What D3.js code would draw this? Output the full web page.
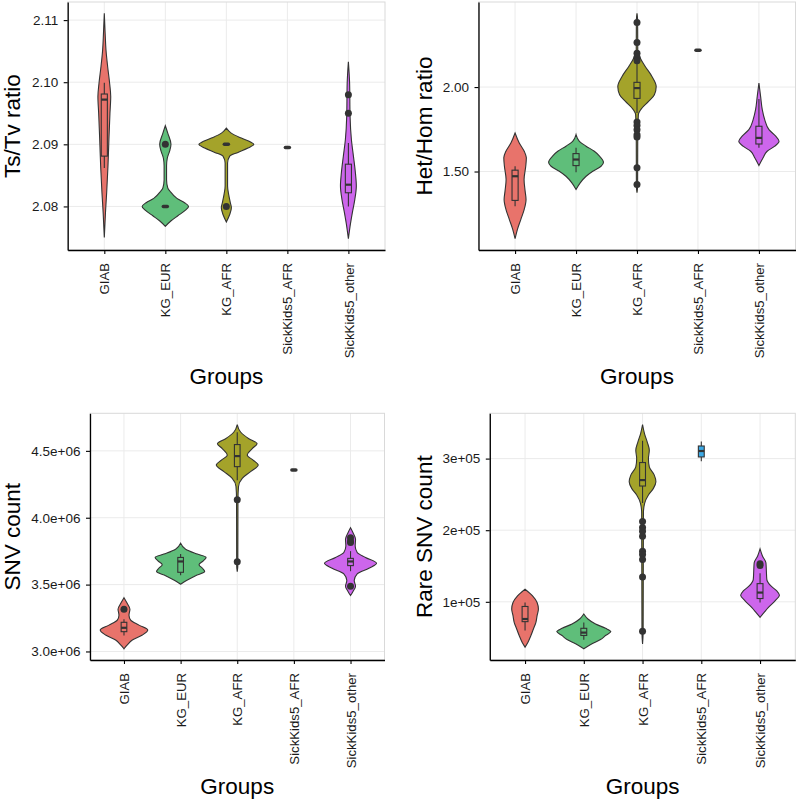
<!DOCTYPE html>
<html>
<head>
<meta charset="utf-8">
<script src="https://cdn.jsdelivr.net/npm/d3@7"></script>
<style>
  body { margin: 0; background: #fff; }
  svg text { font-family: "Liberation Sans", Arial, Helvetica, sans-serif; }
</style>
</head>
<body>
<div id="content"></div>
<script>
// groups in plotting order, with the ggplot hue assigned to each
var groups = ["GIAB", "KG_EUR", "KG_AFR", "SickKids5_AFR", "SickKids5_other"];
var groupColors = ["#E8736B", "#5FBE7A", "#A4A32A", "#3DAAE6", "#CD66EC"];

// violin profiles: [value, width as share of one group step], top to bottom
var tstvProfiles = [
	[[2.1111, 0], [2.1079, 0.027], [2.1052, 0.055], [2.1025, 0.11], [2.0998, 0.175], [2.0977, 0.21],
	 [2.0950, 0.185], [2.0907, 0.15], [2.0865, 0.12], [2.0822, 0.077], [2.0790, 0.038], [2.0750, 0]],
	[[2.0930, 0], [2.0918, 0.08], [2.0900, 0.185], [2.0889, 0.14], [2.0878, 0.065], [2.0865, 0.04],
	 [2.0843, 0.04], [2.0830, 0.08], [2.0824, 0.16], [2.0813, 0.38], [2.0806, 0.63], [2.0800, 0.76],
	 [2.0794, 0.66], [2.0785, 0.41], [2.0777, 0.19], [2.0768, 0]],
	[[2.0926, 0], [2.0918, 0.16], [2.0910, 0.49], [2.0903, 0.82], [2.0900, 0.9], [2.0894, 0.71],
	 [2.0887, 0.38], [2.0881, 0.11], [2.0870, 0.04], [2.0833, 0.04], [2.0819, 0.077], [2.0806, 0.13],
	 [2.0798, 0.165], [2.0787, 0.11], [2.0775, 0]],
	[],
	[[2.1033, 0], [2.0998, 0.04], [2.0945, 0.055], [2.0907, 0.1], [2.0881, 0.165], [2.0854, 0.23],
	 [2.0833, 0.26], [2.0811, 0.21], [2.0790, 0.13], [2.0768, 0.055], [2.0748, 0]]
];
// box stats: [lower whisker, q1, median, q3, upper whisker]
var tstvBoxes = [
	[2.0862, 2.0881, 2.0972, 2.0981, 2.0999],
	[2.0800, 2.0800, 2.0800, 2.0800, 2.0800],
	[2.0900, 2.0900, 2.0900, 2.0900, 2.0900],
	[2.0895, 2.0895, 2.0895, 2.0895, 2.0895],
	[2.0800, 2.0822, 2.0835, 2.0868, 2.0902]
];
var tstvOutliers = [[], [2.090], [2.080], [], [2.098, 2.095]];
var tstvTicks = [2.08, 2.09, 2.10, 2.11];
var tstvTickLabels = ["2.08", "2.09", "2.10", "2.11"];

var hethomProfiles = [
	[[1.728, 0], [1.669, 0.137], [1.620, 0.3], [1.581, 0.37], [1.531, 0.35], [1.453, 0.295],
	 [1.384, 0.33], [1.335, 0.36], [1.276, 0.3], [1.217, 0.19], [1.159, 0.08], [1.102, 0]],
	[[1.718, 0], [1.679, 0.11], [1.650, 0.33], [1.620, 0.6], [1.591, 0.77], [1.555, 0.9],
	 [1.531, 0.82], [1.502, 0.55], [1.472, 0.33], [1.433, 0.137], [1.394, 0]],
	[[2.437, 0], [2.398, 0.02], [2.220, 0.025], [2.171, 0.11], [2.122, 0.27], [2.063, 0.49],
	 [2.004, 0.63], [1.955, 0.57], [1.915, 0.38], [1.876, 0.165], [1.837, 0.045], [1.728, 0.025],
	 [1.413, 0.02], [1.374, 0]],
	[],
	[[2.024, 0], [1.945, 0.055], [1.866, 0.11], [1.807, 0.19], [1.748, 0.33], [1.709, 0.55],
	 [1.679, 0.66], [1.650, 0.52], [1.620, 0.27], [1.581, 0.137], [1.535, 0]]
];
var hethomBoxes = [
	[1.295, 1.329, 1.472, 1.508, 1.531],
	[1.496, 1.535, 1.571, 1.606, 1.640],
	[1.846, 1.933, 1.994, 2.028, 2.142],
	[2.218, 2.218, 2.218, 2.218, 2.218],
	[1.640, 1.663, 1.699, 1.768, 1.930]
];
var hethomOutliers = [[], [],
	[2.382, 2.264, 2.201, 2.177, 2.156, 1.793, 1.772, 1.748, 1.718, 1.705, 1.522, 1.423],
	[], []];
var hethomTicks = [1.5, 2.0];
var hethomTickLabels = ["1.50", "2.00"];

var snvProfiles = [
	[[3.402e6, 0], [3.358e6, 0.118], [3.316e6, 0.21], [3.271e6, 0.177], [3.234e6, 0.236], [3.197e6, 0.53],
	 [3.160e6, 0.84], [3.123e6, 0.65], [3.086e6, 0.295], [3.049e6, 0.118], [3.020e6, 0]],
	[[3.809e6, 0], [3.765e6, 0.177], [3.728e6, 0.59], [3.703e6, 0.9], [3.678e6, 0.8], [3.649e6, 0.65],
	 [3.622e6, 0.77], [3.597e6, 0.85], [3.567e6, 0.53], [3.530e6, 0.206], [3.503e6, 0]],
	[[4.697e6, 0], [4.641e6, 0.118], [4.591e6, 0.41], [4.554e6, 0.7], [4.517e6, 0.53], [4.468e6, 0.354],
	 [4.431e6, 0.56], [4.394e6, 0.74], [4.345e6, 0.47], [4.295e6, 0.177], [4.234e6, 0.045],
	 [4.135e6, 0.025], [3.641e6, 0.02], [3.597e6, 0]],
	[],
	[[3.925e6, 0], [3.888e6, 0.088], [3.839e6, 0.177], [3.789e6, 0.165], [3.740e6, 0.236], [3.703e6, 0.53],
	 [3.659e6, 0.92], [3.622e6, 0.65], [3.580e6, 0.236], [3.530e6, 0.13], [3.488e6, 0.177],
	 [3.449e6, 0.088], [3.419e6, 0]]
];
var snvBoxes = [
	[3.120e6, 3.148e6, 3.177e6, 3.218e6, 3.240e6],
	[3.570e6, 3.592e6, 3.673e6, 3.703e6, 3.728e6],
	[4.280e6, 4.382e6, 4.461e6, 4.547e6, 4.640e6],
	[4.357e6, 4.357e6, 4.357e6, 4.357e6, 4.357e6],
	[3.600e6, 3.642e6, 3.673e6, 3.696e6, 3.750e6]
];
var snvOutliers = [[3.316e6], [], [4.135e6, 3.671e6], [], [3.851e6, 3.826e6, 3.814e6, 3.488e6]];
var snvTicks = [3.0e6, 3.5e6, 4.0e6, 4.5e6];
var snvTickLabels = ["3.0e+06", "3.5e+06", "4.0e+06", "4.5e+06"];

var rareProfiles = [
	[[1.176e5, 0], [1.083e5, 0.255], [0.991e5, 0.41], [0.898e5, 0.455], [0.806e5, 0.41], [0.714e5, 0.37],
	 [0.621e5, 0.285], [0.529e5, 0.2], [0.436e5, 0.1], [0.367e5, 0]],
	[[0.829e5, 0], [0.760e5, 0.14], [0.690e5, 0.4], [0.630e5, 0.74], [0.584e5, 0.92], [0.529e5, 0.74],
	 [0.473e5, 0.57], [0.413e5, 0.28], [0.344e5, 0]],
	[[3.476e5, 0], [3.346e5, 0.068], [3.231e5, 0.16], [3.115e5, 0.23], [3.000e5, 0.2], [2.885e5, 0.23],
	 [2.769e5, 0.4], [2.677e5, 0.455], [2.584e5, 0.37], [2.492e5, 0.2], [2.376e5, 0.07],
	 [2.238e5, 0.03], [0.575e5, 0.02], [0.413e5, 0]],
	[],
	[[1.739e5, 0], [1.637e5, 0.085], [1.545e5, 0.2], [1.430e5, 0.215], [1.314e5, 0.23], [1.222e5, 0.37],
	 [1.152e5, 0.57], [1.092e5, 0.66], [1.014e5, 0.51], [0.921e5, 0.285], [0.852e5, 0.14], [0.783e5, 0]]
];
var rareBoxes = [
	[0.600e5, 0.723e5, 0.760e5, 0.935e5, 0.990e5],
	[0.470e5, 0.530e5, 0.570e5, 0.630e5, 0.710e5],
	[2.380e5, 2.617e5, 2.700e5, 2.945e5, 3.250e5],
	[2.963e5, 3.023e5, 3.106e5, 3.176e5, 3.240e5],
	[0.990e5, 1.046e5, 1.129e5, 1.254e5, 1.400e5]
];
var rareOutliers = [[], [],
	[2.122e5, 2.039e5, 1.984e5, 1.915e5, 1.707e5, 1.660e5, 1.591e5, 1.346e5, 0.589e5],
	[], [1.531e5, 1.508e5]];
var rareTicks = [1e5, 2e5, 3e5];
var rareTickLabels = ["1e+05", "2e+05", "3e+05"];

// layout of the four panels
var panels = [
	{title: "Ts/Tv ratio", profiles: tstvProfiles, boxes: tstvBoxes, outliers: tstvOutliers,
	 ticks: tstvTicks, labels: tstvTickLabels, left: 67.7, right: 385, top: 2, bottom: 250, titleX: 20},
	{title: "Het/Hom ratio", profiles: hethomProfiles, boxes: hethomBoxes, outliers: hethomOutliers,
	 ticks: hethomTicks, labels: hethomTickLabels, left: 478.5, right: 795.5, top: 2, bottom: 250, titleX: 432},
	{title: "SNV count", profiles: snvProfiles, boxes: snvBoxes, outliers: snvOutliers,
	 ticks: snvTicks, labels: snvTickLabels, left: 90, right: 384.5, top: 413.3, bottom: 660, titleX: 20},
	{title: "Rare SNV count", profiles: rareProfiles, boxes: rareBoxes, outliers: rareOutliers,
	 ticks: rareTicks, labels: rareTickLabels, left: 489.8, right: 795.3, top: 413.3, bottom: 660, titleX: 432}
];

var ink = "#333333";
var svg = d3.select("#content").append("svg")
	.attr("width", 800).attr("height", 803);

panels.forEach(drawPanel);

function drawPanel(p) {
	var g = svg.append("g");

	var x = d3.scalePoint().domain(groups).range([p.left, p.right]).padding(0.6);
	var step = x.step();

	// y range from the data, padded 5% like ggplot
	var vals = [];
	p.profiles.forEach(function(pr) { pr.forEach(function(d) { vals.push(d[0]); }); });
	p.boxes.forEach(function(b) { vals = vals.concat(b); });
	p.outliers.forEach(function(o) { vals = vals.concat(o); });
	var ext = d3.extent(vals);
	var pad = (ext[1] - ext[0]) * 0.05;
	var y = d3.scaleLinear().domain([ext[0] - pad, ext[1] + pad]).range([p.bottom, p.top]);

	// grid
	g.append("g").selectAll("line").data(p.ticks).enter().append("line")
		.attr("x1", p.left).attr("x2", p.right)
		.attr("y1", function(d) { return y(d); }).attr("y2", function(d) { return y(d); })
		.attr("stroke", "#EBEBEB").attr("stroke-width", 1);
	g.append("g").selectAll("line").data(groups).enter().append("line")
		.attr("y1", p.top).attr("y2", p.bottom)
		.attr("x1", function(d) { return x(d); }).attr("x2", function(d) { return x(d); })
		.attr("stroke", "#EBEBEB").attr("stroke-width", 1);
	g.append("rect")
		.attr("x", p.left).attr("y", p.top)
		.attr("width", p.right - p.left).attr("height", p.bottom - p.top)
		.attr("fill", "none").attr("stroke", "#D9D9D9").attr("stroke-width", 1);

	// violins
	groups.forEach(function(grp, i) {
		var cx = x(grp);
		var prof = p.profiles[i];
		if (prof.length) {
			var area = d3.area()
				.curve(d3.curveMonotoneY)
				.y(function(d) { return y(d[0]); })
				.x0(function(d) { return cx - d[1] * step / 2; })
				.x1(function(d) { return cx + d[1] * step / 2; });
			g.append("path")
				.datum(prof)
				.attr("d", area)
				.attr("fill", groupColors[i])
				.attr("stroke", ink).attr("stroke-width", 1.1);
		}
	});

	// boxes
	var bw = step * 0.1;
	groups.forEach(function(grp, i) {
		var cx = x(grp);
		var b = p.boxes[i];
		var bg = g.append("g");
		if (b[4] - b[0] === 0) {
			bg.append("line")
				.attr("x1", cx - 2).attr("x2", cx + 2)
				.attr("y1", y(b[2])).attr("y2", y(b[2]))
				.attr("stroke", ink).attr("stroke-width", 3.5).attr("stroke-linecap", "round");
			return;
		}
		bg.append("line").attr("x1", cx).attr("x2", cx)
			.attr("y1", y(b[0])).attr("y2", y(b[1]))
			.attr("stroke", ink).attr("stroke-width", 1.1);
		bg.append("line").attr("x1", cx).attr("x2", cx)
			.attr("y1", y(b[3])).attr("y2", y(b[4]))
			.attr("stroke", ink).attr("stroke-width", 1.1);
		bg.append("rect")
			.attr("x", cx - bw / 2).attr("width", bw)
			.attr("y", y(b[3])).attr("height", Math.max(0.5, y(b[1]) - y(b[3])))
			.attr("fill", p.profiles[i].length ? "none" : groupColors[i])
			.attr("stroke", ink).attr("stroke-width", 1.1);
		bg.append("line")
			.attr("x1", cx - bw / 2).attr("x2", cx + bw / 2)
			.attr("y1", y(b[2])).attr("y2", y(b[2]))
			.attr("stroke", ink).attr("stroke-width", 2.2);
	});

	// outliers
	groups.forEach(function(grp, i) {
		g.append("g").selectAll("circle").data(p.outliers[i]).enter().append("circle")
			.attr("cx", x(grp))
			.attr("cy", function(d) { return y(d); })
			.attr("r", 3.5)
			.attr("fill", ink);
	});

	// axes
	var yAxis = d3.axisLeft(y).tickValues(p.ticks)
		.tickFormat(function(d, i) { return p.labels[i]; })
		.tickSize(4).tickSizeOuter(0).tickPadding(5.5);
	var ya = g.append("g").attr("transform", "translate(" + p.left + ",0)").call(yAxis);
	ya.select(".domain").attr("stroke", "#000").attr("stroke-width", 1.3);
	ya.selectAll(".tick line").attr("stroke", "#000").attr("stroke-width", 1.1);
	ya.selectAll(".tick text").attr("fill", "#1a1a1a").style("font-size", "13.5px");

	var xAxis = d3.axisBottom(x).tickSize(4).tickSizeOuter(0);
	var xa = g.append("g").attr("transform", "translate(0," + p.bottom + ")").call(xAxis);
	xa.select(".domain").attr("stroke", "#000").attr("stroke-width", 1.3);
	xa.selectAll(".tick line").attr("stroke", "#000").attr("stroke-width", 1.1);
	xa.selectAll(".tick text")
		.attr("transform", "rotate(-90)")
		.attr("text-anchor", "end")
		.attr("x", -13).attr("y", 0).attr("dy", "0.35em")
		.attr("fill", "#1a1a1a").style("font-size", "13.2px");

	// titles
	g.append("text")
		.attr("transform", "translate(" + p.titleX + "," + (p.top + p.bottom) / 2 + ") rotate(-90)")
		.attr("text-anchor", "middle")
		.style("font-size", "22.5px").attr("fill", "#000")
		.text(p.title);
	g.append("text")
		.attr("x", (p.left + p.right) / 2).attr("y", p.bottom + 134)
		.attr("text-anchor", "middle")
		.style("font-size", "22.5px").attr("fill", "#000")
		.text("Groups");
}
</script>
</body>
</html>
